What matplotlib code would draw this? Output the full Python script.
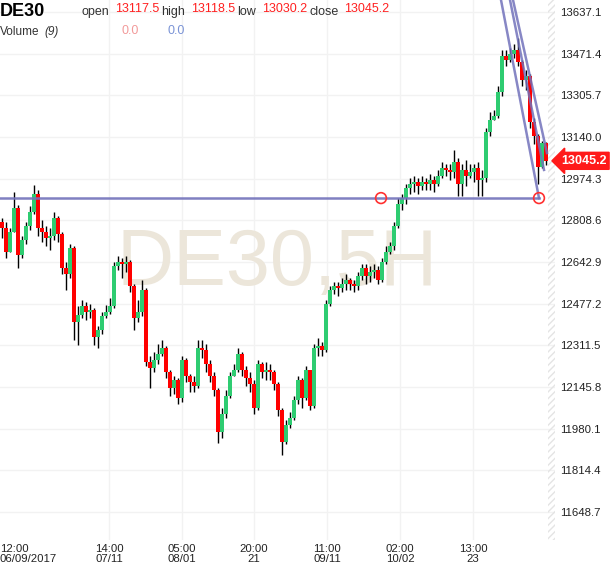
"""DE30 5H candlestick chart with a horizontal level and a falling channel."""

import matplotlib
matplotlib.use("Agg")
import matplotlib.pyplot as plt
import matplotlib.transforms as mtransforms
import numpy as np

plt.rcParams["font.family"] = ["Liberation Sans", "DejaVu Sans"]

W, H = 610, 568

# candle data, one candle per slot
first_open = 12802
closes = [
    12778, 12683, 12762, 12858, 12671, 12730, 12786, 12842, 12913, 12778,
    12762, 12739, 12746, 12818, 12754, 12619, 12595, 12699, 12404, 12432,
    12468, 12444, 12452, 12345, 12373, 12428, 12444, 12468, 12627, 12643,
    12635, 12643, 12548, 12420, 12444, 12532, 12245, 12221, 12253, 12277,
    12301, 12206, 12142, 12174, 12102, 12253, 12190, 12166, 12150, 12301,
    12293, 12237, 12190, 12134, 11967, 12039, 12110, 12190, 12214, 12277,
    12214, 12182, 12158, 12062, 12237, 12206, 12214, 12206, 12158, 12054,
    11927, 11995, 12023, 12094, 12174, 12102, 12214, 12070, 12301, 12309,
    12293, 12476, 12532, 12548, 12540, 12556, 12571, 12556, 12548, 12587,
    12619, 12587, 12603, 12611, 12571, 12643, 12683, 12707, 12786, 12874,
    12898, 12937, 12953, 12961, 12945, 12961, 12953, 12969, 12953, 12985,
    13017, 13009, 13001, 13041, 12953, 13009, 12985, 13001, 13017, 12969,
    12977, 13160, 13208, 13224, 13319, 13462, 13446, 13470, 13486, 13438,
    13367, 13383, 13200, 13144, 13021, 13117.5, 13045.2,
]
highs = [
    12818, 12802, 12778, 12921, 12870, 12746, 12802, 12866, 12949, 12929,
    12810, 12786, 12778, 12842, 12826, 12762, 12643, 12715, 12707, 12468,
    12492, 12484, 12476, 12460, 12389, 12444, 12472, 12500, 12643, 12667,
    12659, 12667, 12651, 12556, 12492, 12571, 12540, 12269, 12285, 12317,
    12333, 12309, 12214, 12190, 12182, 12269, 12261, 12198, 12190, 12333,
    12333, 12317, 12253, 12206, 12142, 12062, 12134, 12206, 12237, 12301,
    12285, 12229, 12206, 12174, 12253, 12245, 12245, 12237, 12214, 12166,
    12062, 12015, 12046, 12110, 12190, 12182, 12229, 12214, 12317, 12341,
    12325, 12492, 12548, 12564, 12564, 12579, 12595, 12579, 12571, 12603,
    12635, 12635, 12627, 12635, 12627, 12659, 12707, 12723, 12802, 12898,
    12913, 12953, 12977, 12985, 12977, 12985, 12977, 12993, 12985, 13009,
    13041, 13033, 13033, 13088, 13057, 13033, 13049, 13033, 13033, 13041,
    13009, 13176, 13240, 13248, 13343, 13486, 13486, 13494, 13510, 13534,
    13446, 13407, 13391, 13216, 13152, 13125, 13118.5,
]
lows = [
    12739, 12659, 12683, 12762, 12619, 12659, 12715, 12770, 12834, 12746,
    12723, 12707, 12691, 12730, 12723, 12595, 12532, 12579, 12333, 12313,
    12420, 12412, 12420, 12313, 12301, 12357, 12420, 12436, 12460, 12611,
    12579, 12603, 12524, 12373, 12404, 12428, 12229, 12142, 12206, 12237,
    12269, 12182, 12110, 12118, 12078, 12086, 12166, 12126, 12126, 12142,
    12261, 12206, 12166, 12110, 11923, 11943, 12023, 12102, 12190, 12206,
    12190, 12150, 12126, 12039, 12054, 12182, 12174, 12174, 12134, 12031,
    11875, 11919, 11983, 12015, 12078, 12062, 12094, 12054, 12062, 12269,
    12269, 12285, 12468, 12516, 12508, 12524, 12532, 12532, 12524, 12532,
    12571, 12556, 12564, 12579, 12556, 12564, 12635, 12675, 12691, 12778,
    12850, 12874, 12913, 12921, 12913, 12929, 12929, 12929, 12921, 12945,
    12977, 12985, 12969, 12977, 12905, 12905, 12945, 12977, 12961, 12905,
    12905, 12961, 13144, 13208, 13216, 13303, 13422, 13438, 13454, 13422,
    13343, 13327, 13176, 13112, 12953, 13015, 13030.2,
]

price_ticks = [13637.1, 13471.4, 13305.7, 13140.0, 12974.3, 12808.6, 12642.9,
               12477.2, 12311.5, 12145.8, 11980.1, 11814.4, 11648.7]
time_tick_pos = [-0.5, 26.75, 45, 63, 81.25, 99.5, 117.75]
time_tick_labels = ["12:00\n06/09/2017", "14:00\n07/11", "05:00\n08/01", "20:00\n21",
                    "11:00\n09/11", "02:00\n10/02", "13:00\n23"]

# drawing objects
level_price = 12897
level_span = [-0.5, 134.25]
level_marks = [94.75, 134.25]
channel_lines = [
    ([124.75, 134.25], [13685, 12897]),
    ([127.0, 135.5], [13685, 13009]),
    ([127.75, 136.25], [13685, 13076]),
]

header_open, header_high, header_low, header_close = "13117.5", "13118.5", "13030.2", "13045.2"

GREEN = "#2ecc71"
RED = "#ff0000"
LINE = "#7272bb"


def fig_text(fig, x, y, s, **kw):
    fig.text(x / W, 1 - y / H, s, va="center", **kw)


def main():
    fig = plt.figure(figsize=(W / 100, H / 100), dpi=100)
    ax = fig.add_axes([0, 28 / H, 555 / W, 540 / H])

    opens = [first_open] + closes[:-1]
    x = np.arange(len(closes))
    o = np.array(opens, dtype=float)
    c = np.array(closes, dtype=float)
    hi = np.maximum(np.array(highs, dtype=float), np.maximum(o, c))
    lo = np.minimum(np.array(lows, dtype=float), np.minimum(o, c))
    up = c >= o

    ax.vlines(x, lo, hi, color="black", lw=1.0, zorder=3)
    body = np.where(np.abs(c - o) < 3, 3, c - o)
    ax.bar(x, body, bottom=o, width=0.85, color=np.where(up, GREEN, RED),
           linewidth=0, zorder=4)

    ax.set_xlim(-0.5, 138.25)
    ax.set_ylim(11537.2, 13684.8)

    # watermark
    ax.text(0.5, 0.51, "DE30,5H", transform=ax.transAxes, ha="center", va="center",
            fontsize=57, color="#ece6da", zorder=1)

    # hatched future area
    ax.axvspan(136.6, 138.25, facecolor="none", edgecolor="#e4e4e4", hatch="/////",
               linewidth=0, zorder=1)

    # horizontal level and channel
    ax.plot(level_span, [level_price, level_price], color=LINE, lw=1.8, alpha=0.9, zorder=5)
    ax.scatter(level_marks, [level_price] * len(level_marks), s=60, facecolor="none",
               edgecolor="#ff3030", linewidth=1.2, zorder=6)
    for xs, ys in channel_lines:
        ax.plot(xs, ys, color=LINE, lw=1.8, alpha=0.85, zorder=5, clip_on=True)

    # axes styling
    for spine in ax.spines.values():
        spine.set_visible(False)
    ax.yaxis.tick_right()
    ax.set_yticks(price_ticks)
    ax.set_yticklabels([f"{v:.1f}" for v in price_ticks])
    ax.set_xticks(time_tick_pos)
    ax.set_xticklabels(time_tick_labels, linespacing=0.95)
    ax.tick_params(axis="both", length=0, labelsize=8.2, colors="#222222")
    ax.tick_params(axis="y", pad=4)
    ax.tick_params(axis="x", pad=3)
    first = ax.get_xticklabels()[0]
    first.set_horizontalalignment("left")
    first.set_multialignment("left")
    ax.grid(True, color="#f2f2f2", lw=1, zorder=0)
    ax.xaxis.get_gridlines()[0].set_visible(False)
    ax.set_axisbelow(True)

    # price tag
    trans = mtransforms.blended_transform_factory(ax.transAxes, ax.transData)
    ax.text(1.052, closes[-1], f"{closes[-1]:.1f}", transform=trans, ha="center",
            va="center", color="white", fontsize=9, fontweight="bold", zorder=10,
            bbox=dict(boxstyle="larrow,pad=0.2", fc="#ff1a1a", ec="#ff1a1a"),
            clip_on=False)

    # header
    fig_text(fig, 0, 11, "DE30", fontsize=13, fontweight="bold", color="black")
    fig_text(fig, 82, 12, "open", fontsize=9, color="#333333")
    fig_text(fig, 115, 9, header_open, fontsize=9, color="#ff2020")
    fig_text(fig, 161, 12, "high", fontsize=9, color="#333333")
    fig_text(fig, 191, 9, header_high, fontsize=9, color="#ff2020")
    fig_text(fig, 237, 12, "low", fontsize=9, color="#333333")
    fig_text(fig, 262, 9, header_low, fontsize=9, color="#ff2020")
    fig_text(fig, 309, 12, "close", fontsize=9, color="#333333")
    fig_text(fig, 344, 9, header_close, fontsize=9, color="#ff2020")
    fig_text(fig, 0, 32, "Volume", fontsize=8.5, color="#333333")
    fig_text(fig, 44, 32, "(9)", fontsize=8.5, color="#333333", style="italic")
    fig_text(fig, 122, 31, "0.0", fontsize=9, color="#f29a9a")
    fig_text(fig, 168, 31, "0.0", fontsize=9, color="#7a93d6")

    fig.savefig("out.png", dpi=100)
    plt.close(fig)


if __name__ == "__main__":
    main()
